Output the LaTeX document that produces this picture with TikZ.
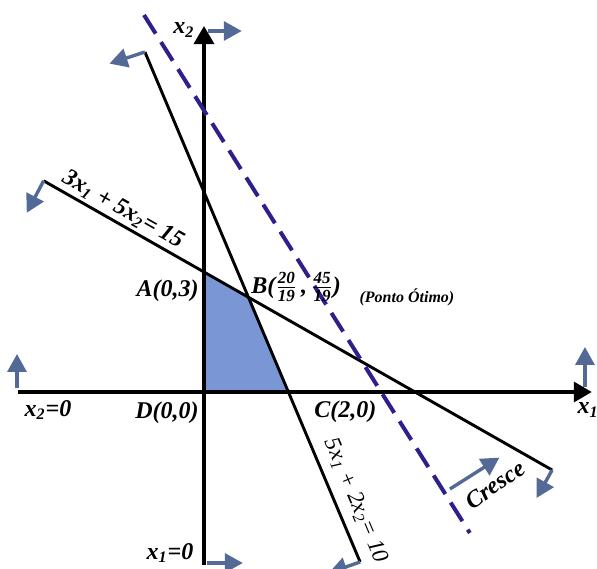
\documentclass[tikz,border=0pt]{standalone}
\usepackage{fontspec}
\setmainfont{Liberation Serif}
\usetikzlibrary{arrows.meta}
\definecolor{feasblue}{RGB}{122,150,212}
\definecolor{objblue}{RGB}{46,32,140}
\definecolor{dirblue}{RGB}{84,106,150}
\newcommand{\xv}[1]{x\textsubscript{#1}}
\newcommand{\frc}[2]{$\frac{\mbox{\fontsize{8.5}{9}\selectfont #1}}{\mbox{\fontsize{8.5}{9}\selectfont #2}}$}

\begin{document}
\begin{tikzpicture}[x=21.1pt,y=20pt,
  axis/.style={line width=1.7pt,-{Triangle[length=9pt,width=10pt]}},
  rest/.style={line width=1.45pt},
  obj/.style={objblue,line width=2pt,dash pattern=on 11pt off 5pt},
  dir/.style={dirblue,line width=1.7pt,-{Triangle[length=9pt,width=9.5pt]}},
  lbl/.style={font=\fontsize{12}{14}\selectfont\bfseries\itshape,inner sep=1pt},
  note/.style={font=\fontsize{8}{10}\selectfont\bfseries\itshape,inner sep=1pt}
]
\useasboundingbox (-4.834,-4.425) rectangle (9.313,9.8);
% feasible region
\coordinate (D) at (0,0);
\coordinate (A) at (0,3);
\coordinate (B) at (20/19,45/19);
\coordinate (C) at (2,0);
\fill[feasblue] (D) -- (A) -- (B) -- (C) -- cycle;
% axes
\coordinate (x1s) at (-4.41,0);
\coordinate (x1e) at (9.19,0);
\coordinate (x2s) at (0,-4.33);
\coordinate (x2e) at (0,9.15);
\draw[axis] (x1s) -- (x1e);
\draw[axis] (x2s) -- (x2e);
% restrictions and objective
\coordinate (r1a) at (-1.4,8.5);
\coordinate (r1b) at (3.7,-4.25);
\coordinate (r2a) at (-3.8,5.28);
\coordinate (r2b) at (8.25,-1.95);
\coordinate (za) at (-1.422,9.425);
\coordinate (zb) at (6.30,-3.525);
\draw[rest] (r1a) -- (r1b);
\draw[rest] (r2a) -- (r2b);
\draw[obj] (za) -- (zb);
% directions
\draw[dir] (0.095,9.025) -- ++(0.8,0);
\draw[dir] (r1a) -- ++(-0.84,-0.29);
\draw[dir] (r2a) -- ++(-0.4,-0.8);
\draw[dir] (-4.431,0.1) -- ++(0,0.85);
\draw[dir] (9.028,0.125) -- ++(0,1.0);
\draw[dir] (r2b) -- ++(-0.37,-0.7);
\draw[dir] (r1b) -- ++(-0.74,-0.27);
\draw[dir] (0.071,-4.275) -- ++(0.85,0);
\draw[dir] (5.829,-2.425) -- (7.0,-1.64);
% labels
\node[lbl] (lx2) at (-0.474,9.05) {\xv{2}};
\node[lbl] (lx1) at (9.1,-0.45) {\xv{1}};
\node[lbl,anchor=east] (lA) at (-0.071,2.525) {A(0,3)};
\node[lbl,anchor=west] (lB) at (1.066,2.625) {B(\frc{20}{19}\,,\,\frc{45}{19})};
\node[note] (lopt) at (4.81,2.375) {(Ponto Ótimo)};
\node[lbl,anchor=east] (lD) at (-0.071,-0.525) {D(0,0)};
\node[lbl,anchor=west] (lC) at (2.559,-0.5) {C(2,0)};
\node[lbl] (lx20) at (-3.697,-0.45) {\xv{2}=0};
\node[lbl] (lx10) at (-0.806,-4.025) {\xv{1}=0};
\node[lbl,rotate=-29.6] (lr2) at (-1.919,4.55) {3\xv{1} + 5\xv{2}= 15};
\node[lbl,font=\fontsize{11.5}{14}\selectfont\itshape,rotate=-67.1] (lr1) at (3.6,-2.72) {5\xv{1} + 2\xv{2}= 10};
\node[lbl,rotate=35] (lcre) at (6.896,-2.325) {Cresce};
\end{tikzpicture}
\end{document}
